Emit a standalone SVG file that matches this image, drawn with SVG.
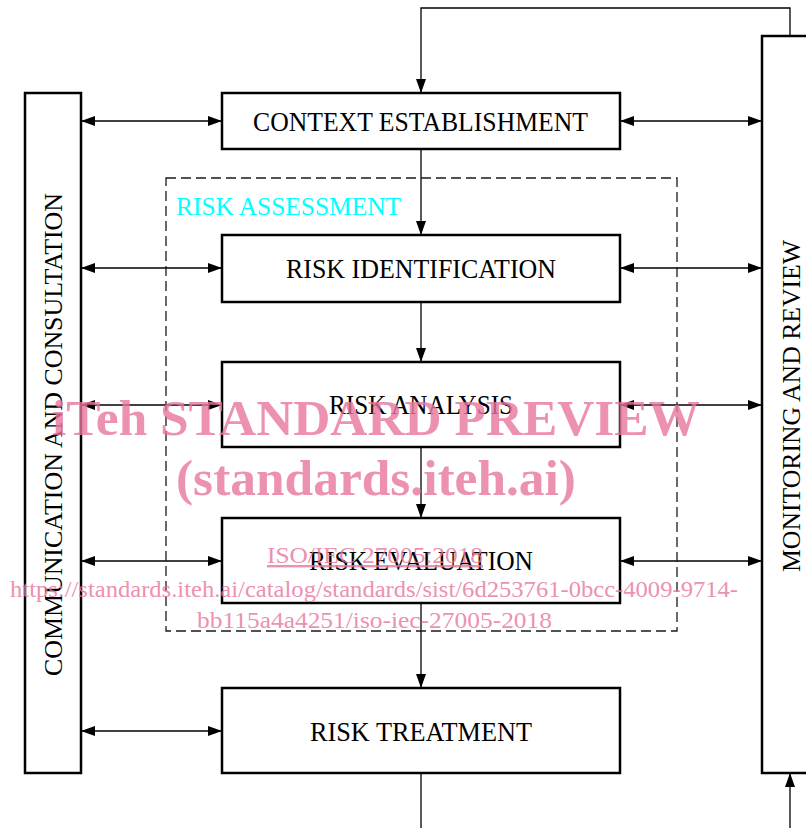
<svg xmlns="http://www.w3.org/2000/svg" width="806" height="828" viewBox="0 0 806 828">
<defs>
<marker id="ah" viewBox="0 0 14 10" refX="14" refY="5" markerWidth="14" markerHeight="10" markerUnits="userSpaceOnUse" orient="auto-start-reverse">
<path d="M0,0 L14,5 L0,10 Z" fill="#000"/>
</marker>
<style>
.box{fill:#fff;stroke:#000;stroke-width:2.5}
.lbl{font-family:"Liberation Serif",serif;font-size:27px;fill:#000}
.side{font-family:"Liberation Serif",serif;font-size:25px;fill:#000}
.con{fill:none;stroke:#000;stroke-width:1.3}
.wm{font-family:"Liberation Serif",serif;fill:#e8769f;opacity:0.8}
</style>
</defs>
<rect width="806" height="828" fill="#fff"/>
<g id="connectors">
<path class="con" d="M790,36 V8 H421 V93" marker-end="url(#ah)"/>
<path class="con" d="M421,149 V235" marker-end="url(#ah)"/>
<path class="con" d="M421,302 V362" marker-end="url(#ah)"/>
<path class="con" d="M421,447 V518" marker-end="url(#ah)"/>
<path class="con" d="M421,603 V688" marker-end="url(#ah)"/>
<path class="con" d="M421,773 V828"/>
<path class="con" d="M790,828 V773" marker-end="url(#ah)"/>
<path class="con" d="M81,121 H222" marker-start="url(#ah)" marker-end="url(#ah)"/>
<path class="con" d="M81,268 H222" marker-start="url(#ah)" marker-end="url(#ah)"/>
<path class="con" d="M81,405 H222" marker-start="url(#ah)" marker-end="url(#ah)"/>
<path class="con" d="M81,561 H222" marker-start="url(#ah)" marker-end="url(#ah)"/>
<path class="con" d="M81,731 H222" marker-start="url(#ah)" marker-end="url(#ah)"/>
<path class="con" d="M620,121 H762" marker-start="url(#ah)" marker-end="url(#ah)"/>
<path class="con" d="M620,268 H762" marker-start="url(#ah)" marker-end="url(#ah)"/>
<path class="con" d="M620,405 H762" marker-start="url(#ah)" marker-end="url(#ah)"/>
<path class="con" d="M620,561 H762" marker-start="url(#ah)" marker-end="url(#ah)"/>
</g>
<g id="risk-assessment">
<rect x="166" y="178" width="511" height="453" fill="none" stroke="#1a1a1a" stroke-width="1.3" stroke-dasharray="10,5"/>
<text x="176" y="215" font-family="Liberation Serif,serif" font-size="25" fill="#00ffff" textLength="225" lengthAdjust="spacingAndGlyphs">RISK ASSESSMENT</text>
</g>
<g id="communication">
<rect class="box" x="25" y="93" width="56" height="680"/>
<text class="side" transform="translate(62,676) rotate(-90)" textLength="483" lengthAdjust="spacingAndGlyphs">COMMUNICATION AND CONSULTATION</text>
</g>
<g id="monitoring">
<rect class="box" x="762" y="36" width="60" height="737"/>
<text class="side" transform="translate(800,572) rotate(-90)" textLength="332" lengthAdjust="spacingAndGlyphs">MONITORING AND REVIEW</text>
</g>
<g id="context">
<rect class="box" x="222" y="93" width="398" height="56"/>
<text class="lbl" x="253" y="131" textLength="335" lengthAdjust="spacingAndGlyphs">CONTEXT ESTABLISHMENT</text>
</g>
<g id="identification">
<rect class="box" x="222" y="235" width="398" height="67"/>
<text class="lbl" x="286" y="278" textLength="270" lengthAdjust="spacingAndGlyphs">RISK IDENTIFICATION</text>
</g>
<g id="analysis">
<rect class="box" x="222" y="362" width="398" height="85"/>
<text class="lbl" x="329" y="414" textLength="184" lengthAdjust="spacingAndGlyphs">RISK ANALYSIS</text>
</g>
<g id="evaluation">
<rect class="box" x="222" y="518" width="398" height="85"/>
<text class="lbl" x="309" y="570" textLength="224" lengthAdjust="spacingAndGlyphs">RISK EVALUATION</text>
</g>
<g id="treatment">
<rect class="box" x="222" y="688" width="398" height="85"/>
<text class="lbl" x="310" y="741" textLength="222" lengthAdjust="spacingAndGlyphs">RISK TREATMENT</text>
</g>
<g id="watermark">
<text class="wm" x="52" y="435" font-size="50" font-weight="bold" textLength="648" lengthAdjust="spacingAndGlyphs">iTeh STANDARD PREVIEW</text>
<text class="wm" x="176" y="495" font-size="50" font-weight="bold" textLength="400" lengthAdjust="spacingAndGlyphs">(standards.iteh.ai)</text>
<text class="wm" x="267" y="563" font-size="24" text-decoration="underline" textLength="216" lengthAdjust="spacingAndGlyphs">ISO/IEC 27005:2018</text>
<text class="wm" x="10" y="597" font-size="24" textLength="728" lengthAdjust="spacingAndGlyphs">https://standards.iteh.ai/catalog/standards/sist/6d253761-0bcc-4009-9714-</text>
<text class="wm" x="197" y="628" font-size="24" textLength="355" lengthAdjust="spacingAndGlyphs">bb115a4a4251/iso-iec-27005-2018</text>
</g>
</svg>
